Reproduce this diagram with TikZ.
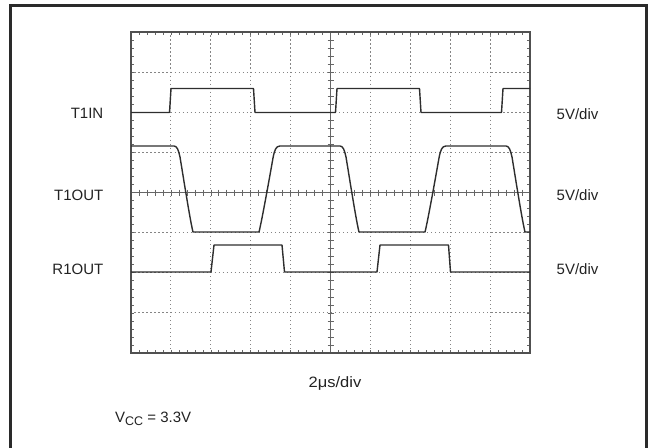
\documentclass[tikz,border=0pt]{standalone}
\usepackage{fontspec}
\setmainfont{Liberation Sans}
\definecolor{tracec}{HTML}{2E2E2E}
\definecolor{gridc}{HTML}{858585}
\definecolor{axisc}{HTML}{666666}
\definecolor{borderc}{HTML}{505050}
\definecolor{framec}{HTML}{2A2A2A}
\definecolor{textc}{HTML}{222222}
\begin{document}
\begin{tikzpicture}[x=1pt,y=-1pt,
  trace/.style={line width=1.4pt, color=tracec, line join=round},
  gridd/.style={line width=0.9pt, color=gridc, dash pattern=on 1.2pt off 2.81pt, dash phase=0.6pt},
  axisl/.style={line width=0.8pt, color=axisc},
  tickl/.style={line width=0.6pt, color=axisc},
  scopeb/.style={line width=1.4pt, color=borderc},
  lbl/.style={font=\fontsize{15}{17}\selectfont, text=textc, inner sep=0pt}]
\useasboundingbox (0,0) rectangle (653,447);
% outer frame
\draw[line width=3pt, color=framec] (10.5,460) -- (10.5,5) -- (646,5) -- (646,460);
% dotted grid lines
\foreach \k in {1,2,3,4,6,7,8,9} {
  \draw[gridd] ({131+39.9*\k},32) -- ({131+39.9*\k},353);
}
\foreach \j in {1,2,3,5,6,7} {
  \draw[gridd] (131,{32+40.125*\j}) -- (530,{32+40.125*\j});
}
% centre axes with ticks
\draw[axisl] (330.5,32) -- (330.5,353);
\draw[axisl] (131,192.5) -- (530,192.5);
\foreach \i in {1,...,39} {
  \draw[tickl] (327.5,{32+8.025*\i}) -- (333.5,{32+8.025*\i});
  \draw[tickl] (131,{32+8.025*\i}) -- (134,{32+8.025*\i});
  \draw[tickl] (530,{32+8.025*\i}) -- (527,{32+8.025*\i});
}
\foreach \i in {1,...,49} {
  \draw[tickl] ({131+7.98*\i},189.5) -- ({131+7.98*\i},195.5);
  \draw[tickl] ({131+7.98*\i},32) -- ({131+7.98*\i},35);
  \draw[tickl] ({131+7.98*\i},353) -- ({131+7.98*\i},350);
}
% scope border
\draw[scopeb] (131,32) rectangle (530,353);
% traces
\begin{scope}
\clip (131,20) rectangle (530,360);
\draw[trace] (131,112.5) -- (169.5,112.5) -- (171,88.5) -- (253.5,88.5) -- (255,112.5)
  -- (335.5,112.5) -- (337,88.5) -- (419.5,88.5) -- (421,112.5)
  -- (501.5,112.5) -- (503,88.5) -- (540,88.5);
\draw[trace] (131,146) -- (174,146) .. controls (177,146) and (178.5,150) .. (180,157)
  .. controls (183,175) and (190,220) .. (193,232) -- (259,232)
  .. controls (262,220) and (270,175) .. (273,158)
  .. controls (274.5,150) and (276,146) .. (280,146)
  -- (340,146) .. controls (343,146) and (344.5,150) .. (346,157)
  .. controls (349,175) and (356,220) .. (359,232) -- (425,232)
  .. controls (428,220) and (436,175) .. (439,158)
  .. controls (440.5,150) and (442,146) .. (446,146)
  -- (506,146) .. controls (509,146) and (510.5,150) .. (512,157)
  .. controls (515,175) and (522,220) .. (525,232) -- (540,232);
\draw[trace] (131,272) -- (211,272) -- (214,245) -- (282,245) -- (284.5,272)
  -- (377,272) -- (380,245) -- (448.5,245) -- (450.5,272) -- (540,272);
\end{scope}
% labels
\node[lbl, anchor=base east] (t1in) at (103.5,118.5) {T1IN};
\node[lbl, anchor=base east] (t1out) at (103.5,200.5) {T1OUT};
\node[lbl, anchor=base east] (r1out) at (103.5,274) {R1OUT};
\node[lbl, anchor=base west] (d1) at (556.5,119) {5V/div};
\node[lbl, anchor=base west] (d2) at (556.5,200.5) {5V/div};
\node[lbl, anchor=base west] (d3) at (556.5,274.5) {5V/div};
\node[lbl, anchor=base] (tdiv) at (335,387.5) {\scalebox{1.1}[1]{2μs/div}};
\node[lbl, anchor=base west] (vcc) at (115,422.5) {V\raisebox{-2.5pt}{\fontsize{12.5}{14}\selectfont CC} = 3.3V};
\end{tikzpicture}
\end{document}
